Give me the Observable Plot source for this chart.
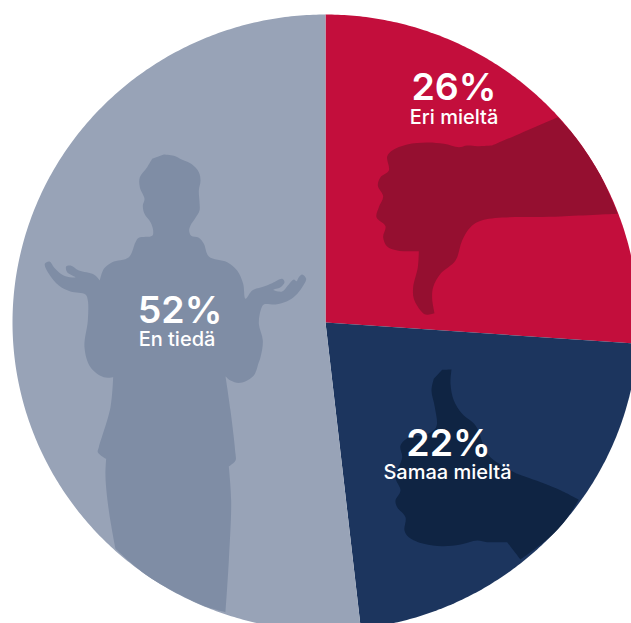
<!DOCTYPE html>
<html>
<head>
<meta charset="utf-8">
<style>html,body{margin:0;padding:0;background:#fff}svg{display:block}</style>
<script src="https://cdn.jsdelivr.net/npm/d3@7"></script>
<script src="https://cdn.jsdelivr.net/npm/@observablehq/plot@0.6"></script>
</head>
<body>
<div id="chart"></div>
<script>
// Data
const categories = ["Eri mieltä", "Samaa mieltä", "En tiedä"];
const values = [26.1, 22.1, 51.8];
const percentLabels = ["26%", "22%", "52%"];
const sliceColors = ["#C30E3C", "#1C355E", "#98A3B7"];
const iconColors = ["#950F30", "#0F2443", "#7F8DA5"];

// Label anchors, in picture units
const percentX = [453.5, 448, 179.5];
const percentY = [99, 455, 322];
const nameX = [453.5, 447, 176.5];
const nameY = [123.3, 478, 345];

// Traced silhouettes, in picture units: [x, y] outline points (a repeated point keeps a corner sharp)
const thumbDownZoom = [[592,170],[592,170],[395,255],[395,255],[350,257],[320,255],[295,260],[250,250],[200,246],[140,252],[95,270],[80,288],[85,330],[60,350],[52,375],[68,408],[55,440],[48,470],[75,497],[68,530],[80,558],[110,570],[175,572],[175,572],[172,620],[158,680],[160,715],[180,750],[195,762],[222,758],[222,758],[215,715],[218,680],[240,640],[285,600],[305,540],[330,500],[370,478],[600,468],[772,460],[772,460]];
const thumbDownEdge = [[600,175],[580,143.4],[570,130.4]];
const thumbUpZoom = [[215,88],[243,87],[243,87],[240,130],[250,180],[275,220],[315,255],[355,345],[440,400],[440,400],[560,445],[625,478],[625,478]];
const thumbUpEdge = [[565,519.7],[550,536]];
const thumbUpZoomB = [[450,657],[450,657],[410,605],[410,605],[350,605],[320,600],[270,612],[215,617],[160,610],[115,590],[102,570],[105,530],[80,500],[75,480],[90,450],[75,410],[95,350],[90,315],[120,288],[160,285],[197,260],[193,200],[183,150],[190,115]];
const personUpperRight = [[490,72],[520,76],[545,88],[575,102],[595,125],[600,150],[595,180],[597,215],[597,240],[585,262],[570,285],[566,300],[572,316],[595,322],[610,340],[625,378],[680,395],[710,420],[728,460],[735,505],[755,480],[790,468],[815,458],[845,445],[852,455],[840,470],[818,478],[845,483],[862,465],[880,447],[888,452],[895,440],[905,432],[917,445],[905,470],[885,495],[860,512],[825,522],[790,522],[782,535],[775,580],[787,630],[780,680],[765,720]];
const personLower = [[505,0],[490,45],[450,67],[420,60],[405,47],[405,47],[420,150],[435,280],[435,300],[415,318],[415,318],[422,420],[415,600],[405,755],[405,755]];
const personEdge = [[205,606],[185,597],[165,586.5],[145,574],[130,562]];
const personLowerLeft = [[75,565],[75,565],[55,450],[45,350],[47,295],[47,295],[22,275],[25,260],[60,140],[68,50],[68,50],[40,50]];
const personUpperLeft = [[270,710],[252,650],[262,570],[262,510],[255,492],[210,483],[175,465],[145,430],[133,400],[147,393],[160,410],[175,425],[195,437],[225,440],[200,425],[197,408],[210,405],[235,420],[280,432],[298,450],[298,450],[310,415],[335,395],[385,380],[405,335],[415,322],[455,316],[458,300],[450,275],[432,250],[427,225],[432,205],[418,170],[418,140],[440,110],[455,85]];

// Crops were read at 3x from given offsets
const fromCrop = (pts, ox, oy) => pts.map(([x, y]) => [ox + x / 3, oy + y / 3]);
const thumbDown = [...fromCrop(thumbDownZoom, 360, 60), ...thumbDownEdge];
const thumbUp = [...fromCrop(thumbUpZoom, 370, 340), ...thumbUpEdge, ...fromCrop(thumbUpZoomB, 370, 340)];
const person = [
  ...fromCrop(personUpperRight, 0, 130),
  ...fromCrop(personLower, 90, 360),
  ...personEdge,
  ...fromCrop(personLowerLeft, 90, 360),
  ...fromCrop(personUpperLeft, 0, 130)
];

// Pie geometry
const cx = 325, cy = 322, rx = 313, ry = 308;
const arcs = d3.pie().sort(null)(values);
const sliceRows = arcs.flatMap((a, i) => {
  const n = Math.ceil((a.endAngle - a.startAngle) / 0.01);
  const rows = [{x: cx, y: cy, slice: categories[i]}];
  for (let k = 0; k <= n; ++k) {
    const t = a.startAngle + (a.endAngle - a.startAngle) * k / n;
    rows.push({x: cx + rx * Math.sin(t), y: cy - ry * Math.cos(t), slice: categories[i]});
  }
  return rows;
});
const iconRows = [thumbDown, thumbUp, person].flatMap((pts, i) =>
  pts.map(([x, y]) => ({x, y, icon: categories[i]})));

const labelRows = categories.map((c, i) => ({
  name: c, pct: percentLabels[i], px: percentX[i], py: percentY[i], nx: nameX[i], ny: nameY[i]
}));

const chart = Plot.plot({
  width: 631,
  height: 623,
  margin: 0,
  style: {background: "#fff"},
  x: {domain: [0, 631], range: [0, 631], axis: null},
  y: {domain: [0, 623], range: [0, 623], axis: null},
  color: {domain: categories, range: sliceColors},
  marks: [
    Plot.line(sliceRows, {x: "x", y: "y", fill: "slice", z: "slice", stroke: "none"}),
    ...categories.map((c, i) =>
      Plot.line(iconRows.filter(d => d.icon === c), {x: "x", y: "y", fill: iconColors[i], stroke: "none", curve: "catmull-rom"})),
    Plot.text(labelRows, {x: "px", y: "py", text: "pct", fill: "#fff", fontFamily: "Inter", fontSize: 37.5, fontWeight: 600, lineAnchor: "bottom", textAnchor: "middle"}),
    Plot.text(labelRows, {x: "nx", y: "ny", text: "name", fill: "#fff", fontFamily: "Inter", fontSize: 20, fontWeight: 500, lineAnchor: "bottom", textAnchor: "middle"})
  ]
});
document.getElementById("chart").appendChild(chart);
</script>
</body>
</html>
